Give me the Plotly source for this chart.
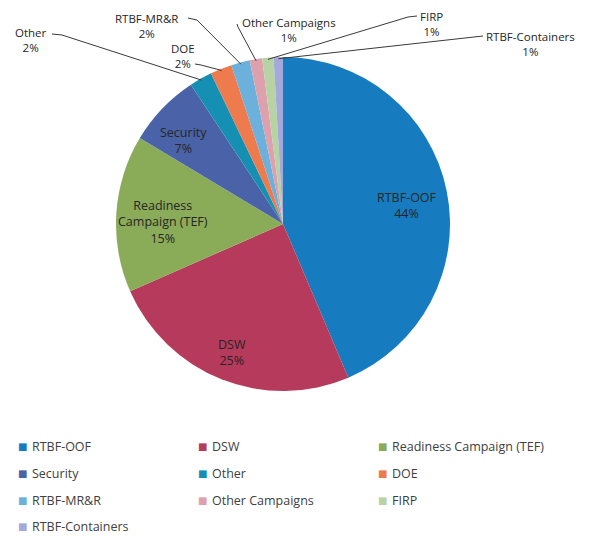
import math
import plotly.graph_objects as go

# ---------------- data ----------------
categories = ["RTBF-OOF", "DSW", "Readiness Campaign (TEF)", "Security", "Other",
              "DOE", "RTBF-MR&R", "Other Campaigns", "FIRP", "RTBF-Containers"]
values = [43.6, 24.8, 15.2, 7.1, 2.2, 2.1, 1.8, 1.2, 1.1, 0.9]
colors = ["#167cbf", "#b63a5b", "#8aab57", "#4a62a7", "#1690b2",
          "#ee7b4d", "#6cb0dc", "#dca1ac", "#b8d3a3", "#a3a9da"]

# ---------------- geometry / styling ----------------
W, H = 591, 536
CX, CY, R = 283, 224, 167          # pie centre and radius in pixels
FONT = "Open Sans"
LBL_COLOR = "#262626"
LEG_COLOR = "#404040"

inside_labels = {                   # display text, radius fraction, angle offset (deg)
    "RTBF-OOF": ("RTBF-OOF", 0.75, 3.2),
    "DSW": ("DSW", 0.83, 0.0),
    "Readiness Campaign (TEF)": ("Readiness<br>Campaign (TEF)", 0.72, -2.6),
    "Security": ("Security", 0.78, -3.8),
}
# outside labels: text centre (px), leader start, leader elbow
outside_labels = {
    "Other": ((31, 40), (52, 34), (62, 35)),
    "RTBF-MR&R": ((146, 26), (188, 18), (197, 20)),
    "DOE": ((183, 56), (195, 64), (201, 65)),
    "Other Campaigns": ((289, 30), (237, 24), (238, 27)),
    "FIRP": ((431, 24), (417, 16), (408, 17)),
    "RTBF-Containers": ((530, 44), (483, 36), (474, 37)),
}
# legend grid
LEG_COL_X = [22, 202, 382]         # marker centres
LEG_ROW_Y = [446, 473, 500, 526]


def px(x, y):
    return x / W, 1 - y / H


total = sum(values)
pcts = [v / total * 100 for v in values]
mids = []
acc = 0.0
for p in pcts:
    mids.append((acc + p / 2) / 100 * 2 * math.pi)
    acc += p


def edge_point(theta, frac):
    return CX + frac * R * math.sin(theta), CY - frac * R * math.cos(theta)


def esc(s):
    return s.replace("&", "&amp;")


fig = go.Figure(go.Pie(
    labels=categories,
    values=values,
    marker=dict(colors=colors, line=dict(width=0)),
    sort=False,
    direction="clockwise",
    rotation=0,
    textinfo="none",
    hoverinfo="label+percent",
    showlegend=False,
    domain=dict(x=[(CX - R) / W, (CX + R) / W], y=[1 - (CY + R) / H, 1 - (CY - R) / H]),
))

annotations = []
shapes = []
for cat, pct, th in zip(categories, pcts, mids):
    if cat in inside_labels:
        txt, fr, dth = inside_labels[cat]
        x, y = edge_point(th + math.radians(dth), fr)
        ax_, ay_ = px(x, y)
        annotations.append(dict(x=ax_, y=ay_, xref="paper", yref="paper", showarrow=False,
                                xanchor="center", yanchor="middle",
                                text=f"{txt}<br>{round(pct):d}%", align="center",
                                font=dict(family=FONT, size=12.5, color=LBL_COLOR)))
    elif cat in outside_labels:
        (tx, ty), (sx, sy), (ex, ey) = outside_labels[cat]
        ax_, ay_ = px(tx, ty)
        annotations.append(dict(x=ax_, y=ay_, xref="paper", yref="paper", showarrow=False,
                                xanchor="center", yanchor="middle",
                                text=f"{esc(cat)}<br>{round(pct):d}%", align="center",
                                font=dict(family=FONT, size=11.5, color=LBL_COLOR)))
        fx, fy = edge_point(th, 0.99)
        pts = [px(sx, sy), px(ex, ey), px(fx, fy)]
        path = "M {} {} L {} {} L {} {}".format(pts[0][0], pts[0][1], pts[1][0], pts[1][1], pts[2][0], pts[2][1])
        shapes.append(dict(type="path", path=path, xref="paper", yref="paper",
                           line=dict(color="#3a3a3a", width=1)))

# legend (3 columns, drawn as text)
for i, (cat, col) in enumerate(zip(categories, colors)):
    cx = LEG_COL_X[i % 3]
    cy = LEG_ROW_Y[i // 3]
    mx, my = px(cx, cy)
    annotations.append(dict(x=mx, y=my, xref="paper", yref="paper", showarrow=False,
                            xanchor="center", yanchor="middle",
                            text="■", font=dict(family="DejaVu Sans", size=10, color=col)))
    lx, ly = px(cx + 8, cy)
    annotations.append(dict(x=lx, y=ly, xref="paper", yref="paper", showarrow=False,
                            xanchor="left", yanchor="middle",
                            text=esc(cat), font=dict(family=FONT, size=12.5, color=LEG_COLOR)))

fig.update_layout(
    width=W, height=H,
    margin=dict(l=0, r=0, t=0, b=0, autoexpand=False),
    paper_bgcolor="white",
    plot_bgcolor="white",
    showlegend=False,
    annotations=annotations,
    shapes=shapes,
)

fig.write_html("out.html", config={"displayModeBar": False},
               post_script="document.body.style.margin='0';")
